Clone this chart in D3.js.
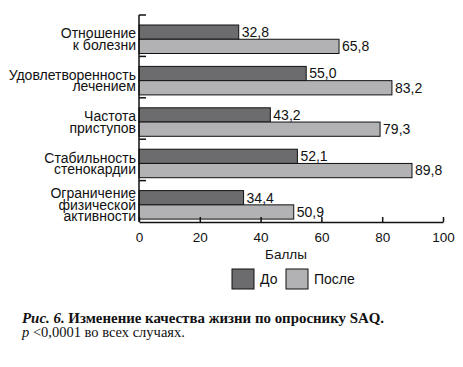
<!DOCTYPE html>
<html>
<head>
<meta charset="utf-8">
<script src="https://cdn.jsdelivr.net/npm/d3@7"></script>
<style>
  body { margin: 0; background: #fff; }
  svg { display: block; }
</style>
</head>
<body>
<svg id="viz" width="463" height="367"></svg>
<script>
const WIDTH = 463;
const HEIGHT = 367;

// data
const categories = [
  ["Отношение", "к болезни"],
  ["Удовлетворенность", "лечением"],
  ["Частота", "приступов"],
  ["Стабильность", "стенокардии"],
  ["Ограничение", "физической", "активности"]
];
const seriesNames = ["До", "После"];
const before = [32.8, 55.0, 43.2, 52.1, 34.4];
const after = [65.8, 83.2, 79.3, 89.8, 50.9];
const xTicks = [0, 20, 40, 60, 80, 100];

const colors = { "До": "#6c6c6e", "После": "#b2b2b4" };
const FONT = "'Liberation Sans', Arial, sans-serif";
const SERIF = "'Liberation Serif', 'Times New Roman', serif";

const rows = categories.map((c, i) => ({
  key: c.join(" "),
  lines: c,
  values: [
    { series: "До", value: before[i] },
    { series: "После", value: after[i] }
  ]
}));

const svg = d3.select("#viz").attr("viewBox", [0, 0, WIDTH, HEIGHT]);

const x = d3.scaleLinear().domain([0, 100]).range([139, 443]);
const y0 = d3.scaleBand().domain(rows.map(d => d.key)).range([15, 222]).padding(0);
const y1 = d3.scaleBand().domain(seriesNames).range([10, 38.5]).padding(0);

const fmt = v => v.toFixed(1).replace(".", ",");

// bars
const groups = svg.append("g").selectAll("g")
  .data(rows)
  .join("g")
  .attr("transform", d => `translate(0,${y0(d.key)})`);

groups.selectAll("rect")
  .data(d => d.values)
  .join("rect")
  .attr("x", x(0))
  .attr("y", d => y1(d.series))
  .attr("width", d => x(d.value) - x(0))
  .attr("height", y1.bandwidth())
  .attr("fill", d => colors[d.series])
  .attr("stroke", "#111")
  .attr("stroke-width", 1);

groups.selectAll("text.val")
  .data(d => d.values)
  .join("text")
  .attr("class", "val")
  .attr("x", d => x(d.value) + 3)
  .attr("y", d => y1(d.series) + y1.bandwidth() / 2)
  .attr("dy", "0.35em")
  .attr("font-family", FONT)
  .attr("font-size", 14)
  .attr("fill", "#111")
  .text(d => fmt(d.value));

// category labels (tight line spacing, as in the print)
groups.append("text")
  .attr("text-anchor", "end")
  .attr("font-family", FONT)
  .attr("font-size", 14)
  .attr("fill", "#111")
  .each(function (d) {
    const t = d3.select(this);
    const lh = 11.6;
    const mid = (y1.range()[0] + y1.range()[1]) / 2;
    const top = mid - (d.lines.length - 1) * lh / 2;
    d.lines.forEach((ln, i) => {
      t.append("tspan")
        .attr("x", 136)
        .attr("y", top + i * lh)
        .attr("dy", "0.35em")
        .text(ln);
    });
  });

// y axis line + inward ticks at band edges
svg.append("line")
  .attr("x1", x(0)).attr("x2", x(0))
  .attr("y1", y0.range()[0]).attr("y2", y0.range()[1])
  .attr("stroke", "#111").attr("stroke-width", 1.5);

svg.append("g").selectAll("line")
  .data(rows)
  .join("line")
  .attr("x1", x(0)).attr("x2", x(0) + 7)
  .attr("y1", d => y0(d.key)).attr("y2", d => y0(d.key))
  .attr("stroke", "#111").attr("stroke-width", 1.5);

// x axis
const xAxis = svg.append("g")
  .attr("transform", `translate(0,${y0.range()[1]})`)
  .call(d3.axisBottom(x).tickValues(xTicks).tickSizeInner(-5).tickSizeOuter(0).tickPadding(10));
xAxis.select(".domain").attr("stroke", "#111").attr("stroke-width", 1.5);
xAxis.selectAll(".tick line").attr("stroke", "#111").attr("stroke-width", 1.5);
xAxis.selectAll(".tick text")
  .attr("font-family", FONT)
  .attr("font-size", 13.5)
  .attr("fill", "#111");

svg.append("text")
  .attr("x", (x(0) + x(100)) / 2 - 5)
  .attr("y", 254)
  .attr("dy", "0.35em")
  .attr("text-anchor", "middle")
  .attr("font-family", FONT)
  .attr("font-size", 13.5)
  .attr("fill", "#111")
  .text("Баллы");

// legend
const legendX = [232, 286];
const legend = svg.append("g").selectAll("g")
  .data(seriesNames)
  .join("g")
  .attr("transform", (d, i) => `translate(${legendX[i]},269)`);

legend.append("rect")
  .attr("width", 22).attr("height", 20)
  .attr("fill", d => colors[d])
  .attr("stroke", "#111").attr("stroke-width", 1);

legend.append("text")
  .attr("x", 28)
  .attr("y", 10)
  .attr("dy", "0.35em")
  .attr("font-family", FONT)
  .attr("font-size", 14)
  .attr("fill", "#111")
  .text(d => d);

// caption
const cap = svg.append("text")
  .attr("x", 22)
  .attr("y", 323)
  .attr("font-family", SERIF)
  .attr("font-size", 14.9)
  .attr("font-weight", "bold")
  .attr("fill", "#111");
cap.append("tspan").attr("font-style", "italic").text("Рис. 6.");
cap.append("tspan").text(" Изменение качества жизни по опроснику SAQ.");

const note = svg.append("text")
  .attr("x", 22)
  .attr("y", 337)
  .attr("font-family", SERIF)
  .attr("font-size", 14.5)
  .attr("fill", "#111");
note.append("tspan").attr("font-style", "italic").text("p");
note.append("tspan").text(" <0,0001 во всех случаях.");
</script>
</body>
</html>
